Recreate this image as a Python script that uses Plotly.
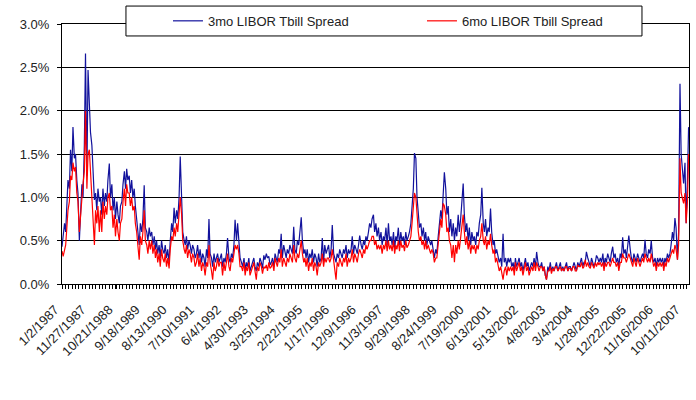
import datetime
import pandas as pd
import plotly.graph_objects as go

# semi-monthly readings (% spread), 24 per year, 1987 .. 2007
spread_3mo = [
    0.43, 0.55, 0.7, 0.6, 0.95, 1.2, 1.1, 1.55, 1.3, 1.81, 1.45, 1.5, 1.2, 1.05, 0.5, 0.9, 1.15, 1.0, 1.6, 2.66, 1.25, 2.47, 2.16, 1.75,
    1.6, 1.2, 0.97, 1.05, 0.85, 1.1, 0.95, 1.0, 0.8, 1.1, 0.9, 1.05, 0.95, 1.2, 1.39, 1.0, 1.15, 0.85, 1.0, 0.75, 0.95, 0.8, 0.7, 0.9,
    0.95, 1.15, 1.3, 1.1, 1.33, 1.2, 1.25, 1.05, 1.2, 1.0, 1.1, 0.9, 0.75, 0.6, 0.45, 0.7, 0.6, 0.75, 1.14, 0.65, 0.6, 0.5, 0.65, 0.55,
    0.6, 0.45, 0.55, 0.4, 0.5, 0.35, 0.45, 0.3, 0.5, 0.4, 0.35, 0.45, 0.3, 0.4, 0.25, 0.5, 0.7, 0.6, 0.88, 0.7, 0.85, 0.75, 1.0, 1.47,
    1.0, 0.6, 0.5, 0.45, 0.55, 0.4, 0.5, 0.45, 0.35, 0.45, 0.4, 0.3, 0.35, 0.45, 0.3, 0.4, 0.25, 0.35, 0.3, 0.2, 0.4, 0.3, 0.75, 0.35,
    0.3, 0.2, 0.35, 0.25, 0.3, 0.35, 0.25, 0.3, 0.35, 0.2, 0.3, 0.25, 0.35, 0.53, 0.3, 0.25, 0.35, 0.3, 0.45, 0.74, 0.5, 0.7, 0.45, 0.3,
    0.25, 0.2, 0.3, 0.15, 0.25, 0.2, 0.3, 0.15, 0.2, 0.25, 0.3, 0.2, 0.15, 0.25, 0.2, 0.3, 0.25, 0.18, 0.33, 0.28, 0.35, 0.3, 0.32, 0.22,
    0.25, 0.3, 0.2, 0.35, 0.3, 0.25, 0.4, 0.35, 0.58, 0.3, 0.45, 0.35, 0.3, 0.4, 0.35, 0.45, 0.4, 0.35, 0.66, 0.4, 0.35, 0.5, 0.45, 0.6,
    0.77, 0.5, 0.35, 0.4, 0.3, 0.4, 0.25, 0.35, 0.3, 0.4, 0.25, 0.35, 0.3, 0.2, 0.35, 0.25, 0.3, 0.53, 0.25, 0.45, 0.35, 0.4, 0.45, 0.3,
    0.4, 0.68, 0.35, 0.3, 0.25, 0.35, 0.3, 0.4, 0.35, 0.3, 0.4, 0.35, 0.45, 0.3, 0.4, 0.35, 0.4, 0.55, 0.35, 0.45, 0.4, 0.35, 0.45, 0.56,
    0.45, 0.4, 0.5, 0.45, 0.55, 0.5, 0.6, 0.7, 0.65, 0.75, 0.8, 0.6, 0.7, 0.55, 0.65, 0.5, 0.6, 0.45, 0.55, 0.5, 0.65, 0.45, 0.7, 0.5,
    0.55, 0.45, 0.6, 0.4, 0.55, 0.5, 0.65, 0.45, 0.6, 0.5, 0.55, 0.45, 0.6, 0.5, 0.55, 0.6, 0.7, 0.9, 1.1, 1.51, 1.45, 1.0, 0.8, 0.65,
    0.7, 0.55, 0.65, 0.5, 0.6, 0.45, 0.55, 0.5, 0.45, 0.5, 0.4, 0.3, 0.4, 0.35, 0.55, 0.7, 0.85, 0.75, 1.0, 1.29, 1.1, 0.8, 0.9, 0.6,
    0.75, 0.55, 0.7, 0.5, 0.65, 0.55, 0.8, 0.6, 0.75, 0.9, 1.16, 0.8, 0.6, 0.7, 0.5, 0.65, 0.45, 0.6, 0.5, 0.55, 0.45, 0.6, 0.55, 0.7,
    0.8, 1.11, 0.7, 0.6, 0.75, 0.55, 0.65, 0.6, 0.87, 0.6, 0.45, 0.5, 0.35, 0.4, 0.3, 0.25, 0.3, 0.2, 0.58, 0.25, 0.3, 0.2, 0.3, 0.25,
    0.3, 0.2, 0.25, 0.15, 0.3, 0.2, 0.25, 0.3, 0.2, 0.25, 0.15, 0.25, 0.3, 0.2, 0.25, 0.15, 0.2, 0.25, 0.2, 0.3, 0.2, 0.37, 0.25, 0.2,
    0.2, 0.25, 0.15, 0.2, 0.1, 0.05, 0.2, 0.15, 0.25, 0.15, 0.2, 0.15, 0.2, 0.25, 0.15, 0.2, 0.25, 0.15, 0.2, 0.15, 0.2, 0.25, 0.15, 0.2,
    0.2, 0.15, 0.2, 0.25, 0.2, 0.15, 0.25, 0.2, 0.25, 0.3, 0.2, 0.25, 0.25, 0.37, 0.3, 0.25, 0.2, 0.3, 0.25, 0.2, 0.25, 0.33, 0.3, 0.25,
    0.3, 0.25, 0.35, 0.2, 0.3, 0.25, 0.35, 0.3, 0.25, 0.35, 0.43, 0.3, 0.35, 0.25, 0.3, 0.2, 0.35, 0.3, 0.54, 0.35, 0.4, 0.3, 0.45, 0.56,
    0.4, 0.3, 0.25, 0.35, 0.3, 0.25, 0.35, 0.3, 0.25, 0.3, 0.35, 0.3, 0.51, 0.35, 0.3, 0.4, 0.35, 0.5, 0.3, 0.25, 0.3, 0.2, 0.3, 0.25,
    0.3, 0.25, 0.3, 0.2, 0.3, 0.25, 0.35, 0.3, 0.35, 0.45, 0.6, 0.5, 0.76, 0.65, 0.28, 0.6, 2.31, 1.5, 1.35, 1.16, 1.4, 0.7, 1.2, 1.81,
]

spread_6mo = [
    0.38, 0.32, 0.39, 0.45, 0.65, 0.85, 0.95, 1.25, 1.2, 1.4, 1.3, 1.35, 1.05, 0.95, 0.6, 0.8, 0.97, 1.16, 1.3, 2.0, 1.1, 1.5, 1.55, 1.3,
    1.1, 0.9, 0.45, 0.85, 0.7, 0.9, 0.6, 0.85, 0.6, 0.95, 0.75, 0.9, 0.8, 1.0, 1.05, 0.85, 0.9, 0.65, 0.8, 0.55, 0.75, 0.6, 0.5, 0.7,
    0.75, 0.95, 1.1, 0.9, 1.15, 1.05, 1.05, 0.9, 1.0, 0.85, 0.9, 0.7, 0.6, 0.45, 0.28, 0.55, 0.45, 0.6, 0.85, 0.5, 0.45, 0.35, 0.5, 0.4,
    0.5, 0.35, 0.45, 0.3, 0.4, 0.25, 0.35, 0.2, 0.4, 0.3, 0.25, 0.35, 0.2, 0.3, 0.18, 0.4, 0.55, 0.5, 0.65, 0.55, 0.7, 0.6, 0.8, 1.0,
    0.8, 0.5, 0.4, 0.35, 0.45, 0.3, 0.4, 0.35, 0.25, 0.35, 0.3, 0.2, 0.25, 0.35, 0.2, 0.3, 0.15, 0.25, 0.2, 0.1, 0.25, 0.2, 0.45, 0.25,
    0.15, 0.05, 0.25, 0.15, 0.2, 0.3, 0.2, 0.25, 0.25, 0.1, 0.25, 0.15, 0.25, 0.35, 0.2, 0.15, 0.3, 0.25, 0.35, 0.45, 0.4, 0.45, 0.35, 0.2,
    0.2, 0.15, 0.25, 0.1, 0.2, 0.15, 0.25, 0.1, 0.15, 0.2, 0.25, 0.15, 0.05, 0.2, 0.15, 0.25, 0.2, 0.12, 0.2, 0.18, 0.22, 0.15, 0.25, 0.18,
    0.2, 0.25, 0.15, 0.3, 0.25, 0.2, 0.3, 0.25, 0.4, 0.2, 0.3, 0.25, 0.2, 0.3, 0.25, 0.35, 0.3, 0.25, 0.45, 0.3, 0.25, 0.35, 0.3, 0.4,
    0.5, 0.35, 0.25, 0.3, 0.2, 0.3, 0.15, 0.25, 0.2, 0.3, 0.15, 0.25, 0.2, 0.1, 0.25, 0.2, 0.25, 0.35, 0.2, 0.3, 0.25, 0.3, 0.3, 0.25,
    0.3, 0.4, 0.25, 0.2, 0.05, 0.25, 0.2, 0.3, 0.25, 0.2, 0.3, 0.25, 0.35, 0.2, 0.3, 0.25, 0.3, 0.4, 0.25, 0.35, 0.3, 0.25, 0.35, 0.4,
    0.35, 0.3, 0.4, 0.35, 0.45, 0.4, 0.45, 0.5, 0.5, 0.55, 0.55, 0.45, 0.5, 0.4, 0.45, 0.4, 0.45, 0.35, 0.45, 0.4, 0.5, 0.38, 0.5, 0.4,
    0.45, 0.38, 0.5, 0.35, 0.45, 0.4, 0.5, 0.38, 0.5, 0.42, 0.45, 0.38, 0.5, 0.42, 0.45, 0.5, 0.55, 0.7, 0.85, 1.05, 1.0, 0.75, 0.6, 0.5,
    0.55, 0.45, 0.5, 0.4, 0.5, 0.4, 0.45, 0.4, 0.35, 0.4, 0.35, 0.25, 0.3, 0.3, 0.45, 0.6, 0.75, 0.65, 0.93, 0.9, 0.8, 0.6, 0.65, 0.5,
    0.45, 0.3, 0.45, 0.25, 0.45, 0.35, 0.5, 0.4, 0.55, 0.65, 0.8, 0.6, 0.45, 0.55, 0.4, 0.5, 0.35, 0.45, 0.4, 0.45, 0.35, 0.45, 0.4, 0.5,
    0.55, 0.7, 0.5, 0.45, 0.55, 0.4, 0.5, 0.45, 0.58, 0.45, 0.35, 0.4, 0.25, 0.3, 0.2, 0.15, 0.2, 0.12, 0.05, 0.15, 0.2, 0.1, 0.2, 0.15,
    0.2, 0.15, 0.2, 0.1, 0.25, 0.15, 0.2, 0.25, 0.15, 0.2, 0.1, 0.2, 0.25, 0.15, 0.2, 0.1, 0.15, 0.2, 0.15, 0.25, 0.15, 0.25, 0.2, 0.15,
    0.2, 0.2, 0.15, 0.2, 0.1, 0.05, 0.15, 0.15, 0.2, 0.12, 0.18, 0.15, 0.2, 0.2, 0.15, 0.18, 0.2, 0.15, 0.18, 0.15, 0.2, 0.2, 0.15, 0.18,
    0.18, 0.15, 0.2, 0.2, 0.15, 0.15, 0.22, 0.2, 0.2, 0.25, 0.18, 0.2, 0.28, 0.2, 0.25, 0.2, 0.18, 0.25, 0.2, 0.18, 0.25, 0.2, 0.25, 0.22,
    0.25, 0.2, 0.25, 0.15, 0.25, 0.2, 0.25, 0.25, 0.2, 0.25, 0.3, 0.25, 0.25, 0.2, 0.25, 0.15, 0.25, 0.25, 0.35, 0.3, 0.3, 0.25, 0.3, 0.35,
    0.3, 0.25, 0.2, 0.3, 0.25, 0.2, 0.3, 0.25, 0.2, 0.25, 0.3, 0.25, 0.35, 0.3, 0.25, 0.3, 0.25, 0.35, 0.25, 0.2, 0.25, 0.15, 0.25, 0.2,
    0.25, 0.2, 0.25, 0.15, 0.25, 0.2, 0.3, 0.25, 0.3, 0.35, 0.4, 0.35, 0.45, 0.4, 0.28, 0.45, 1.45, 1.05, 1.0, 0.93, 1.05, 0.7, 0.95, 1.5,
]

date_labels = ["1/2/1987", "11/27/1987", "10/21/1988", "9/18/1989", "8/13/1990", "7/10/1991",
               "6/4/1992", "4/30/1993", "3/25/1994", "2/22/1995", "1/17/1996", "12/9/1996",
               "11/3/1997", "9/29/1998", "8/24/1999", "7/19/2000", "6/13/2001", "5/13/2002",
               "4/8/2003", "3/4/2004", "1/28/2005", "12/22/2005", "11/16/2006", "10/11/2007"]
y_ticks = [0, 0.5, 1.0, 1.5, 2.0, 2.5, 3.0]
y_labels = ["0.0%", "0.5%", "1.0%", "1.5%", "2.0%", "2.5%", "3.0%"]

dates = pd.date_range("1987-01-01", periods=len(spread_3mo), freq="SMS")
tick_dates = [datetime.datetime.strptime(s, "%m/%d/%Y") for s in date_labels]

fig = go.Figure()
fig.add_trace(go.Scatter(x=dates, y=spread_3mo, mode="lines", name="3mo LIBOR Tbill Spread",
                         line=dict(color="#12129c", width=1.2)))
fig.add_trace(go.Scatter(x=dates, y=spread_6mo, mode="lines", name="6mo LIBOR Tbill Spread",
                         line=dict(color="#ff0000", width=1.2)))

font = dict(family="Liberation Sans, Arial", size=13, color="#222222")

fig.update_layout(
    width=696, height=400,
    margin=dict(l=62, r=7, t=24, b=116, autoexpand=False),
    paper_bgcolor="white", plot_bgcolor="white",
    font=font,
    showlegend=True,
    legend=dict(orientation="h", x=0.169, xanchor="left", y=1.012, yanchor="middle",
                bgcolor="rgba(0,0,0,0)", borderwidth=0, entrywidth=209, font=font),
    shapes=[dict(type="rect", xref="paper", yref="paper", x0=0.102, x1=0.925, y0=0.954, y1=1.069,
                 fillcolor="white", line=dict(color="black", width=1), layer="above")],
)

fig.update_xaxes(
    type="date", range=["1987-01-01", "2007-12-20"], automargin=False,
    tickmode="array", tickvals=tick_dates, ticktext=date_labels, tickangle=-45,
    ticks="outside", ticklen=4, tickcolor="black",
    ticklabelstandoff=8, ticklabelshift=-7,
    minor=dict(tickmode="linear", tick0="1987-01-01", dtick=41.25 * 86400000,
               ticks="outside", ticklen=4, tickcolor="black"),
    showgrid=False, showline=True, linecolor="black", linewidth=1, mirror=True,
    tickfont=font,
)
fig.update_yaxes(
    range=[0, 3.0], automargin=False, tickmode="array", tickvals=y_ticks, ticktext=y_labels,
    ticks="outside", ticklen=4, tickcolor="black", ticklabelstandoff=5,
    showgrid=True, gridcolor="black", gridwidth=1,
    showline=True, linecolor="black", linewidth=1, mirror=True, zeroline=False,
    tickfont=font,
)

fig.write_html("out.html", config={"displayModeBar": False},
               post_script="document.body.style.margin='0';")
